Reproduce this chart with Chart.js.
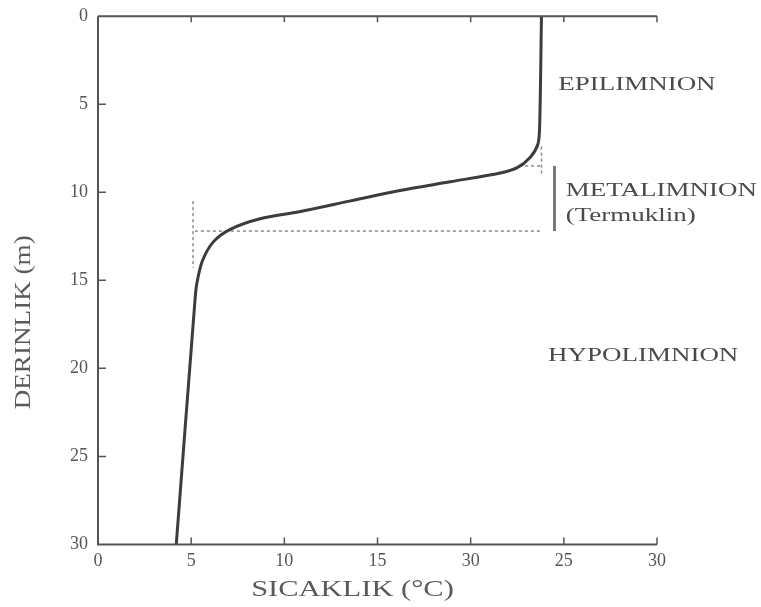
<!DOCTYPE html>
<html>
<head>
<meta charset="utf-8">
<script src="https://cdn.jsdelivr.net/npm/chart.js@4.4.0/dist/chart.umd.min.js"></script>
<style>
  html, body { margin: 0; padding: 0; background: #fff; }
  #wrap { width: 761px; height: 607px; position: relative; }
</style>
</head>
<body>
<div id="wrap"><canvas id="profil"></canvas></div>
<script>
// sıcaklık profili (okunan değerler)
const depths = [0, 6.3, 7.3, 8.0, 8.6, 8.9, 9.4, 9.9, 10.5, 11.1, 11.5, 12.1, 12.8, 13.9, 15.2, 16.2, 30];
const temps  = [23.8, 23.7, 23.6, 23.2, 22.5, 21.6, 18.9, 16.2, 13.5, 10.8, 8.7, 7.1, 6.2, 5.6, 5.3, 5.2, 4.2];

// termoklin yardımcı çizgileri
const thermoTopDepth = 8.5;
const thermoBottomDepth = 12.2;
const bracketTemp = 24.5;

// eksen etiketleri (orijinaldeki gibi)
const tickValues = [0, 5, 10, 15, 20, 25, 30];
const xTickLabels = ['0', '5', '10', '15', '30', '25', '30'];
const yTickLabels = ['0', '5', '10', '15', '20', '25', '30'];

// bölge yazıları
const zoneNames = ['EPILIMNION', 'METALIMNION', '(Termuklin)', 'HYPOLIMNION'];
const zoneTemps = [24.7, 25.1, 25.1, 24.15];
const zoneDepths = [3.9, 9.9, 11.35, 19.3];

const profile = depths.map((d, i) => ({ x: temps[i], y: d }));

const gray = '#555';
const serif = '"Liberation Serif", "DejaVu Serif", serif';

const dotted = {
  borderColor: '#8a8a8a',
  borderWidth: 1.5,
  borderDash: [3, 3],
  pointRadius: 0,
  showLine: true,
  fill: false
};

// geniş (yatay esnetilmiş) yazı
function wideText(ctx, text, x, y, stretch, align) {
  ctx.save();
  ctx.translate(x, y);
  ctx.scale(stretch, 1);
  ctx.textAlign = align;
  ctx.fillText(text, 0, 0);
  ctx.restore();
}

// eksen çizgileri, içe bakan çentikler ve yazılar
const decorPlugin = {
  id: 'decor',
  afterDatasetsDraw(chart) {
    const { ctx, chartArea, scales } = chart;
    const x = scales.x, y = scales.y;
    ctx.save();
    ctx.strokeStyle = gray;
    ctx.lineWidth = 2;
    ctx.beginPath();
    ctx.moveTo(chartArea.left, chartArea.top);
    ctx.lineTo(chartArea.left, chartArea.bottom);
    ctx.lineTo(chartArea.right, chartArea.bottom);
    ctx.moveTo(chartArea.left, chartArea.top);
    ctx.lineTo(chartArea.right, chartArea.top);
    ctx.stroke();
    ctx.lineWidth = 1.5;
    ctx.beginPath();
    for (let v = 5; v <= 30; v += 5) {
      const px = x.getPixelForValue(v);
      ctx.moveTo(px, chartArea.bottom);
      ctx.lineTo(px, chartArea.bottom - 7);
      ctx.moveTo(px, chartArea.top);
      ctx.lineTo(px, chartArea.top + 6);
    }
    for (let v = 5; v < 30; v += 5) {
      const py = y.getPixelForValue(v);
      ctx.moveTo(chartArea.left, py);
      ctx.lineTo(chartArea.left + 8, py);
    }
    ctx.stroke();

    ctx.fillStyle = '#4a4a4a';
    ctx.font = '19px ' + serif;
    ctx.textBaseline = 'middle';
    zoneNames.forEach((name, i) => {
      wideText(ctx, name, x.getPixelForValue(zoneTemps[i]), y.getPixelForValue(zoneDepths[i]), 1.42, 'left');
    });

    // eksen başlıkları
    ctx.fillStyle = '#5a5a5a';
    ctx.font = '24px ' + serif;
    wideText(ctx, 'SICAKLIK (°C)', (chartArea.left + chartArea.right) / 2 - 25, chartArea.bottom + 45, 1.27, 'center');
    ctx.save();
    ctx.translate(24, chartArea.top + 306);
    ctx.rotate(-Math.PI / 2);
    wideText(ctx, 'DERINLIK (m)', 0, 0, 1.13, 'center');
    ctx.restore();
    ctx.restore();
  }
};

new Chart(document.getElementById('profil'), {
  type: 'scatter',
  data: {
    datasets: [
      {
        data: profile,
        showLine: true,
        borderColor: '#3c3c3c',
        borderWidth: 3,
        pointRadius: 0,
        tension: 0.3,
        fill: false
      },
      Object.assign({}, dotted, { data: [{ x: 5.2, y: thermoBottomDepth }, { x: 23.8, y: thermoBottomDepth }] }),
      Object.assign({}, dotted, { data: [{ x: 5.1, y: 10.5 }, { x: 5.1, y: 14.3 }] }),
      Object.assign({}, dotted, { data: [{ x: 22.6, y: thermoTopDepth }, { x: 23.8, y: thermoTopDepth }] }),
      Object.assign({}, dotted, { data: [{ x: 23.8, y: 7.4 }, { x: 23.8, y: 9.0 }] }),
      {
        data: [{ x: bracketTemp, y: thermoTopDepth }, { x: bracketTemp, y: thermoBottomDepth }],
        showLine: true,
        borderColor: '#7a7a7a',
        borderWidth: 3,
        pointRadius: 0
      }
    ]
  },
  options: {
    responsive: true,
    maintainAspectRatio: false,
    animation: false,
    layout: { padding: { left: 60, right: 104, top: 0, bottom: 29 } },
    plugins: {
      legend: { display: false },
      tooltip: { enabled: false }
    },
    scales: {
      x: {
        type: 'linear',
        min: 0,
        max: 30,
        grid: { display: false, drawTicks: false },
        border: { display: false },
        ticks: {
          stepSize: 5,
          padding: 6,
          color: gray,
          font: { family: serif, size: 18 },
          callback: (v) => xTickLabels[tickValues.indexOf(v)]
        }
      },
      y: {
        type: 'linear',
        reverse: true,
        min: 0,
        max: 30,
        grid: { display: false, drawTicks: false },
        border: { display: false },
        ticks: {
          stepSize: 5,
          padding: 10,
          color: gray,
          font: { family: serif, size: 18, lineHeight: 0.7 },
          callback: (v) => yTickLabels[tickValues.indexOf(v)]
        }
      }
    }
  },
  plugins: [decorPlugin]
});
</script>
</body>
</html>
